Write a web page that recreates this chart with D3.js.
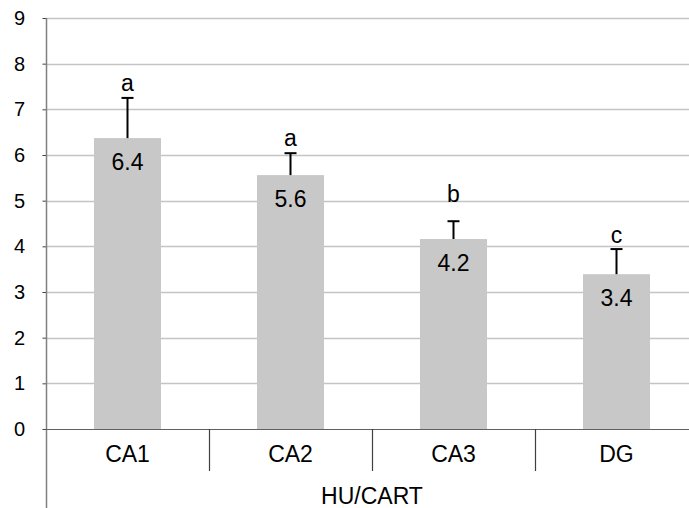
<!DOCTYPE html>
<html><head><meta charset="utf-8">
<script src="https://cdn.jsdelivr.net/npm/d3@7"></script>
<style>body{margin:0;background:#fff}svg{display:block;font-family:"Liberation Sans",Arial,sans-serif}</style>
</head><body><div id="chart"></div>
<script>
const categories = ["CA1","CA2","CA3","DG"];
const values = [6.37, 5.56, 4.16, 3.39];
const errors = [0.88, 0.48, 0.39, 0.55];
const letters = ["a","a","b","c"];
const letterValues = [7.40, 6.20, 4.97, 4.07];
const yTicks = [0,1,2,3,4,5,6,7,8,9];
const axisTitle = "HU/CART";

const W = 689, H = 508;
const svg = d3.select("#chart").append("svg").attr("width", W).attr("height", H);
const pLeft = 46, pRight = 698, pTop = 18, pBottom = 429;
const y = d3.scaleLinear().domain([0,9]).range([pBottom, pTop]);
const x = d3.scaleBand().domain(categories).range([pLeft, pRight]).paddingInner(0.589).paddingOuter(0.2945);

// gridlines
svg.append("g").selectAll("line").data(yTicks.filter(t => t > 0)).join("line")
  .attr("x1", pLeft).attr("x2", W).attr("y1", d => Math.round(y(d)) + 0.5).attr("y2", d => Math.round(y(d)) + 0.5)
  .attr("stroke", "#c4c4c4").attr("stroke-width", 1.5);

// y axis
const yAxis = d3.axisLeft(y).tickValues(yTicks).tickSize(4).tickPadding(17.5).tickFormat(d3.format("d"));
const gy = svg.append("g").attr("transform", `translate(${pLeft + 0.5},0)`).call(yAxis);
gy.select(".domain").remove();
gy.selectAll(".tick line").attr("stroke", "#404040");
gy.selectAll(".tick text").attr("font-size", 20).attr("fill", "#000").attr("font-family", "Liberation Sans, Arial, sans-serif");
svg.append("line").attr("x1", pLeft + 0.5).attr("x2", pLeft + 0.5).attr("y1", pTop).attr("y2", H)
  .attr("stroke", "#808080").attr("stroke-width", 1.5);

// bars
svg.append("g").selectAll("rect").data(categories).join("rect")
  .attr("x", d => x(d)).attr("width", x.bandwidth())
  .attr("y", (d, i) => y(values[i])).attr("height", (d, i) => y(0) - y(values[i]))
  .attr("fill", "#c8c8c8");

// x axis line at 0
svg.append("line").attr("x1", pLeft).attr("x2", W).attr("y1", Math.round(y(0)) + 0.5).attr("y2", Math.round(y(0)) + 0.5)
  .attr("stroke", "#606060").attr("stroke-width", 1.2);

// category separators
const step = x.step();
svg.append("g").selectAll("line").data(categories.slice(1)).join("line")
  .attr("x1", d => Math.round(x(d) - (step - x.bandwidth()) / 2) + 0.5)
  .attr("x2", d => Math.round(x(d) - (step - x.bandwidth()) / 2) + 0.5)
  .attr("y1", pBottom).attr("y2", pBottom + 42)
  .attr("stroke", "#404040").attr("stroke-width", 1.2);

// error bars
const eb = svg.append("g").attr("stroke", "#000").attr("stroke-width", 2);
categories.forEach((c, i) => {
  const cx = x(c) + x.bandwidth() / 2;
  const yt = y(values[i] + errors[i]);
  eb.append("line").attr("x1", cx).attr("x2", cx).attr("y1", y(values[i])).attr("y2", yt);
  eb.append("line").attr("x1", cx - 6).attr("x2", cx + 6).attr("y1", yt).attr("y2", yt);
});

// value labels
svg.append("g").selectAll("text").data(categories).join("text")
  .attr("x", d => x(d) + x.bandwidth() / 2).attr("y", (d, i) => y(values[i]) + 32)
  .attr("text-anchor", "middle").attr("font-size", 23).attr("fill", "#000")
  .text((d, i) => d3.format(".1f")(values[i]));

// letters
svg.append("g").selectAll("text").data(categories).join("text")
  .attr("x", d => x(d) + x.bandwidth() / 2).attr("y", (d, i) => y(letterValues[i]))
  .attr("text-anchor", "middle").attr("font-size", 23).attr("fill", "#000")
  .text((d, i) => letters[i]);

// category labels
svg.append("g").selectAll("text").data(categories).join("text")
  .attr("x", d => x(d) + x.bandwidth() / 2).attr("y", 462)
  .attr("text-anchor", "middle").attr("font-size", 23).attr("fill", "#000")
  .text(d => d);

svg.append("text").attr("x", (pLeft + pRight) / 2).attr("y", 504).attr("text-anchor", "middle")
  .attr("font-size", 23).attr("fill", "#000").text(axisTitle);
</script></body></html>
